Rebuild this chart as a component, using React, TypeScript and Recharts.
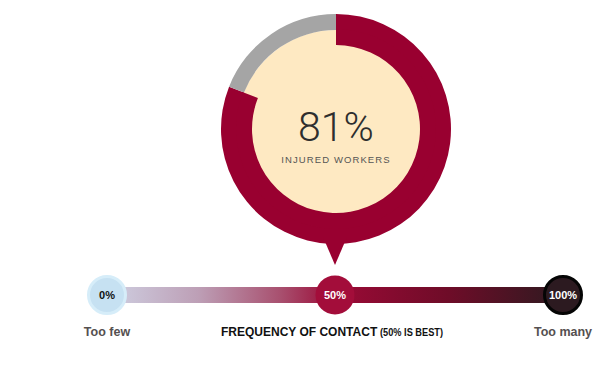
import React from 'react';
import {
  PieChart,
  Pie,
  Cell,
  Label,
  ScatterChart,
  Scatter,
  XAxis,
  YAxis,
  ReferenceArea,
} from 'recharts';

// ---- data ----
const ringCategories = ['Injured workers', 'Not injured'];
const ringValues = [81, 19];
const headline = '81%';
const headlineCaption = 'INJURED WORKERS';

const scalePositions = [0, 50, 100];
const scaleLabels = ['0%', '50%', '100%'];
const scaleCaptions = ['Too few', '', 'Too many'];
const highlightedPosition = 50;
const axisTitle = 'FREQUENCY OF CONTACT';
const axisNote = '(50% IS BEST)';

// ---- styles ----
const RED = '#990030';
const GRAY = '#a5a5a5';
const CREAM = '#fee9c2';
const W = 615;
const H = 367;
const FONT = '"Liberation Sans", Arial, sans-serif';

const ringData = ringCategories.map((name, i) => ({ name, value: ringValues[i] }));
const fillData = [{ name: 'fill', value: 1 }];
const scaleData = scalePositions.map((x, i) => ({
  x,
  y: 0.5,
  label: scaleLabels[i],
  caption: scaleCaptions[i],
}));

const CX = 336;
const CY = 129;

const renderCenter = (props: any) => {
  const vb = props.viewBox || {};
  const cx = vb.cx ?? CX;
  const cy = vb.cy ?? CY;
  return (
    <g>
      <text
        x={cx}
        y={cy + 12}
        textAnchor="middle"
        fontFamily="Roboto, sans-serif"
        fontWeight={300}
        fontSize={41}
        fill="#2e2e2e"
      >
        {headline}
      </text>
      <text
        x={cx}
        y={cy + 34}
        textAnchor="middle"
        fontFamily={FONT}
        fontSize={9.5}
        letterSpacing={1.1}
        fill="#555555"
      >
        {headlineCaption}
      </text>
    </g>
  );
};

const renderPoint = (props: any) => {
  const { cx, cy, payload } = props;
  const x = payload.x;
  let fill = RED;
  let stroke = RED;
  let sw = 0;
  let textFill = '#ffffff';
  if (x === scalePositions[0]) {
    fill = '#c6e1f2';
    stroke = '#d6edf9';
    sw = 3;
    textFill = '#111111';
  } else if (x === scalePositions[scalePositions.length - 1]) {
    fill = '#2c1a20';
    stroke = '#050505';
    sw = 3;
  } else {
    fill = '#a30d3a';
    stroke = '#a30d3a';
  }
  const isHi = x === highlightedPosition;
  return (
    <g>
      {isHi && (
        <path
          d={`M ${cx - 12} ${cy - 58} L ${cx + 12} ${cy - 58} L ${cx} ${cy - 30} Z`}
          fill={RED}
        />
      )}
      <circle cx={cx} cy={cy} r={sw ? 18.5 : 19.5} fill={fill} stroke={stroke} strokeWidth={sw} />
      <text
        x={cx}
        y={cy + 4}
        textAnchor="middle"
        fontFamily={FONT}
        fontWeight="bold"
        fontSize={11}
        fill={textFill}
      >
        {payload.label}
      </text>
      {payload.caption ? (
        <text
          x={cx}
          y={cy + 41}
          textAnchor="middle"
          fontFamily={FONT}
          fontWeight="bold"
          fontSize={12.5}
          fill="#555050"
        >
          {payload.caption}
        </text>
      ) : null}
    </g>
  );
};

const renderTitle = (props: any) => {
  const vb = props.viewBox || {};
  const cx = (vb.x ?? 0) + (vb.width ?? 0) / 2 - 3;
  const y = (vb.y ?? 0) + (vb.height ?? 0) + 33;
  return (
    <g>
      <text
        x={cx - 111}
        y={y}
        textAnchor="start"
        fontFamily={FONT}
        fontWeight="bold"
        fontSize={12}
        fill="#111111"
      >
        {axisTitle}
      </text>
      <text
        x={cx + 48}
        y={y}
        textAnchor="start"
        fontFamily={FONT}
        fontWeight="bold"
        fontSize={11}
        textLength={63}
        lengthAdjust="spacingAndGlyphs"
        fill="#111111"
      >
        {axisNote}
      </text>
    </g>
  );
};

export default function App() {
  return (
    <div style={{ position: 'absolute', left: 0, top: 0, width: W, height: H, background: '#fff' }}>
      <div style={{ position: 'absolute', left: 0, top: 0 }}>
        <PieChart width={W} height={H} margin={{ top: 0, right: 0, bottom: 0, left: 0 }}>
          <Pie
            data={fillData}
            dataKey="value"
            cx={CX}
            cy={CY}
            innerRadius={0}
            outerRadius={99}
            stroke="none"
            fill={CREAM}
            isAnimationActive={false}
          />
          <Pie
            data={ringData}
            dataKey="value"
            cx={CX}
            cy={CY}
            innerRadius={99}
            outerRadius={115}
            startAngle={90}
            endAngle={-270}
            stroke="none"
            isAnimationActive={false}
          >
            <Cell fill={RED} />
            <Cell fill={GRAY} />
          </Pie>
          <Pie
            data={ringData}
            dataKey="value"
            cx={CX}
            cy={CY}
            innerRadius={84}
            outerRadius={100}
            startAngle={90}
            endAngle={-270}
            stroke="none"
            isAnimationActive={false}
          >
            <Cell fill={RED} />
            <Cell fill="transparent" />
            <Label content={renderCenter} position="center" />
          </Pie>
        </PieChart>
      </div>
      <div style={{ position: 'absolute', left: 0, top: 0 }}>
        <ScatterChart width={W} height={H} margin={{ top: 275, right: 52, bottom: 52, left: 107 }}>
          <defs>
            <linearGradient id="trackGrad" x1="0" y1="0" x2="1" y2="0">
              <stop offset="0%" stopColor="#cfd0e2" />
              <stop offset="20%" stopColor="#bd9fb6" />
              <stop offset="38%" stopColor="#a8506f" />
              <stop offset="50%" stopColor="#9b0a36" />
              <stop offset="75%" stopColor="#6e0c28" />
              <stop offset="100%" stopColor="#2e1a20" />
            </linearGradient>
          </defs>
          <XAxis type="number" dataKey="x" domain={[0, 100]} hide />
          <YAxis type="number" dataKey="y" domain={[0, 1]} hide />
          <ReferenceArea
            x1={scalePositions[0]}
            x2={scalePositions[scalePositions.length - 1]}
            y1={0.3}
            y2={0.7}
            fill="url(#trackGrad)"
            fillOpacity={1}
            stroke="none"
            label={renderTitle}
          />
          <Scatter data={scaleData} shape={renderPoint} isAnimationActive={false} />
        </ScatterChart>
      </div>
    </div>
  );
}
